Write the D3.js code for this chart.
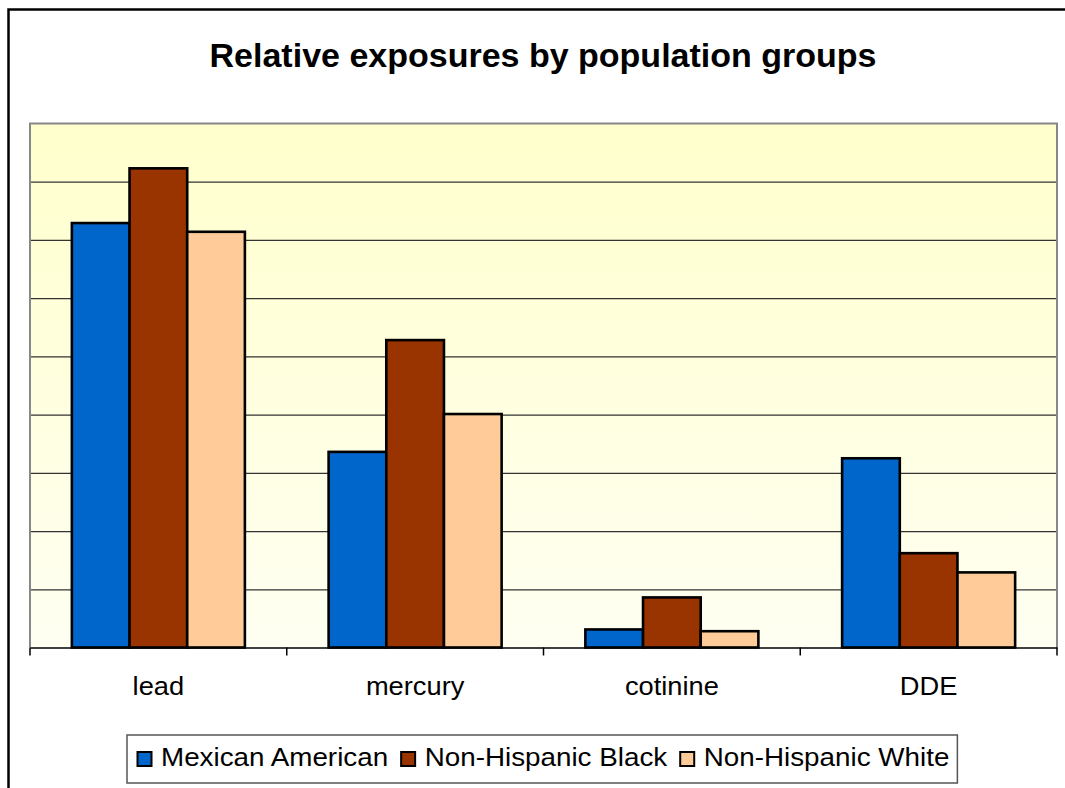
<!DOCTYPE html>
<html>
<head>
<meta charset="utf-8">
<script src="https://cdn.jsdelivr.net/npm/d3@7"></script>
<style>
  html, body { margin: 0; padding: 0; background: #fff; overflow: hidden; }
  svg { display: block; }
  text { font-family: "Liberation Sans", Arial, sans-serif; }
</style>
</head>
<body>
<svg id="chart" width="1065" height="788"></svg>
<script>
// Chart data
const categories = ["lead", "mercury", "cotinine", "DDE"];
const seriesNames = ["Mexican American", "Non-Hispanic Black", "Non-Hispanic White"];
const mexicanAmerican = [7.29, 3.36, 0.31, 3.25];
const nonHispanicBlack = [8.23, 5.28, 0.86, 1.62];
const nonHispanicWhite = [7.14, 4.01, 0.28, 1.29];
const yTicks = [0, 1, 2, 3, 4, 5, 6, 7, 8, 9];
const colors = ["#0066CC", "#993300", "#FFCC99"];

const series = [mexicanAmerican, nonHispanicBlack, nonHispanicWhite];

const svg = d3.select("#chart");
const plot = { left: 30, top: 123.5, right: 1057, bottom: 647.5 };
const textStretch = 1.07;

// Outer chart frame (runs off the right and bottom edges)
svg.append("path")
  .attr("d", "M8.5,800V9.5H1070")
  .attr("fill", "none").attr("stroke", "#000").attr("stroke-width", 2.5);

// Title
svg.append("text")
  .attr("x", 543).attr("y", 67)
  .attr("text-anchor", "middle")
  .attr("font-size", 34).attr("font-weight", "bold")
  .text("Relative exposures by population groups");

// Plot background gradient
const defs = svg.append("defs");
const grad = defs.append("linearGradient")
  .attr("id", "plotBg").attr("x1", 0).attr("y1", 0).attr("x2", 0).attr("y2", 1);
grad.append("stop").attr("offset", "0%").attr("stop-color", "#FFFFCC");
grad.append("stop").attr("offset", "100%").attr("stop-color", "#FFFFF2");

svg.append("rect")
  .attr("x", plot.left).attr("y", plot.top)
  .attr("width", plot.right - plot.left).attr("height", plot.bottom - plot.top)
  .attr("fill", "url(#plotBg)");

// Scales
const x0 = d3.scaleBand().domain(categories).range([plot.left, plot.right]).paddingInner(0).paddingOuter(0);
const x1 = d3.scaleBand().domain(seriesNames).range([0, x0.bandwidth()]).paddingInner(0).paddingOuter(0.726);
const y = d3.scaleLinear().domain([0, 9]).range([plot.bottom, plot.top]);

// Gridlines
svg.append("g")
  .attr("transform", `translate(${plot.left},0)`)
  .call(d3.axisLeft(y).tickValues(yTicks.slice(1, -1)).tickSize(-(plot.right - plot.left)).tickFormat(""))
  .call(g => g.select(".domain").remove())
  .call(g => g.selectAll(".tick line").attr("stroke", "#333").attr("stroke-width", 1.2));

// Plot border
svg.append("path")
  .attr("d", `M${plot.left},${plot.bottom}V${plot.top}H${plot.right}V${plot.bottom}`)
  .attr("fill", "none").attr("stroke", "#888").attr("stroke-width", 2);

// Bars
const groups = svg.append("g").selectAll("g")
  .data(categories)
  .join("g")
  .attr("transform", d => `translate(${x0(d)},0)`);

groups.selectAll("rect")
  .data((d, i) => series.map((s, k) => ({ name: seriesNames[k], value: s[i], color: colors[k] })))
  .join("rect")
  .attr("x", d => x1(d.name))
  .attr("y", d => y(d.value))
  .attr("width", x1.bandwidth())
  .attr("height", d => y(0) - y(d.value))
  .attr("fill", d => d.color)
  .attr("stroke", "#000").attr("stroke-width", 2.6);

// Category axis
const xAxis = svg.append("g")
  .attr("transform", `translate(0,${plot.bottom})`)
  .call(d3.axisBottom(x0).tickSize(0).tickPadding(0).tickFormat(""));
xAxis.select(".domain").attr("stroke", "#000").attr("stroke-width", 1.5);

svg.append("g").selectAll("text")
  .data(categories)
  .join("text")
  .attr("transform", d => `translate(${x0(d) + x0.bandwidth() / 2},${plot.bottom + 47}) scale(${textStretch},1)`)
  .attr("text-anchor", "middle")
  .attr("font-size", 25.5)
  .text(d => d);

// Tick marks between categories
const boundaries = categories.map(c => x0(c)).concat([plot.right]);
svg.append("g").selectAll("line")
  .data(boundaries)
  .join("line")
  .attr("x1", d => d).attr("x2", d => d)
  .attr("y1", plot.bottom).attr("y2", plot.bottom + 8)
  .attr("stroke", "#000").attr("stroke-width", 1.5);

// Legend
const legend = svg.append("g");
const legendBox = legend.append("rect")
  .attr("fill", "#fff").attr("stroke", "#555").attr("stroke-width", 1.5);
let cx = 137.5;
const items = legend.selectAll("g")
  .data(seriesNames)
  .join("g");
items.each(function (d, i) {
  const g = d3.select(this);
  g.append("rect")
    .attr("x", cx).attr("y", 752)
    .attr("width", 14).attr("height", 14)
    .attr("fill", colors[i]).attr("stroke", "#000").attr("stroke-width", 2);
  const t = g.append("text")
    .attr("transform", `translate(${cx + 23.5},766) scale(${textStretch},1)`)
    .attr("font-size", 26)
    .text(d);
  const w = t.node().getComputedTextLength() * textStretch;
  cx += 23.5 + w + 13;
});
legendBox.attr("x", 127).attr("y", 735).attr("width", cx - 13 + 8 - 127).attr("height", 48);
</script>
</body>
</html>
